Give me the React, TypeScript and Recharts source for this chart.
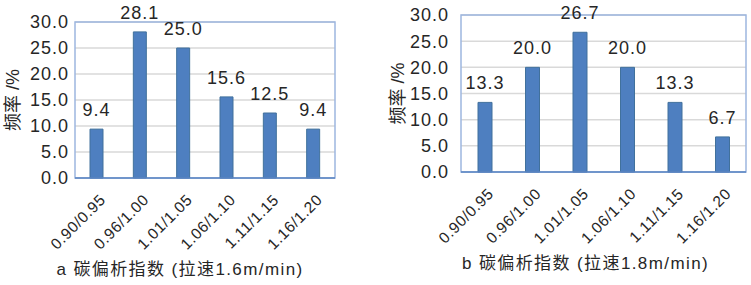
import React from 'react';
import {
  BarChart,
  Bar,
  XAxis,
  YAxis,
  CartesianGrid,
  LabelList,
  ReferenceArea,
} from 'recharts';

// carbon segregation index bins
const categories = ['0.90/0.95', '0.96/1.00', '1.01/1.05', '1.06/1.10', '1.11/1.15', '1.16/1.20'];
// frequency (%) at casting speed 1.6 m/min
const freqA = [9.4, 28.1, 25.0, 15.6, 12.5, 9.4];
// frequency (%) at casting speed 1.8 m/min
const freqB = [13.3, 20.0, 26.7, 20.0, 13.3, 6.7];
const yTicks = [0, 5, 10, 15, 20, 25, 30];

const titleA = 'a 碳偏析指数 (拉速1.6m/min)';
const titleB = 'b 碳偏析指数 (拉速1.8m/min)';
const yTitle = '频率 /%';

const FONT = '"Liberation Sans", Arial, "Noto Sans CJK SC", sans-serif';
const TEXT = '#262626';

const RotTick = (props: any) => {
  const { x, y, payload } = props;
  return (
    <g transform={`translate(${x + 6},${y + 11})`}>
      <text
        textAnchor="end"
        transform="rotate(-45)"
        dy="0.35em"
        fill={TEXT}
        fontSize={15.5}
        fontFamily={FONT}
        letterSpacing={0.6}
      >
        {payload.value}
      </text>
    </g>
  );
};

type PanelProps = {
  values: number[];
  title: string;
  width: number;
  margin: { top: number; right: number; bottom: number; left: number };
  yWidth: number;
  yLabelOffset: number;
  barSize: number;
  titleDx: number;
  tickMargin: number;
};

const Panel = ({ values, title, width, margin, yWidth, yLabelOffset, barSize, titleDx, tickMargin }: PanelProps) => {
  const data = categories.map((c, i) => ({ name: c, value: values[i] }));
  return (
    <BarChart width={width} height={285} data={data} margin={margin}>
      <CartesianGrid vertical={false} stroke="#D9D9D9" strokeWidth={1.5} />
      <ReferenceArea
        x1={categories[0]}
        x2={categories[categories.length - 1]}
        y1={0}
        y2={30}
        fill="none"
        stroke="#9DB6DF"
        strokeWidth={1.5}
        ifOverflow="visible"
      />
      <XAxis
        dataKey="name"
        interval={0}
        height={80}
        tickLine={false}
        axisLine={{ stroke: '#5B86C5', strokeWidth: 1.5 }}
        tick={<RotTick />}
        label={{
          value: title,
          position: 'bottom',
          offset: 5,
          dx: titleDx,
          fill: TEXT,
          fontSize: 17,
          fontFamily: FONT,
          letterSpacing: 1.4,
        }}
      />
      <YAxis
        domain={[0, 30]}
        ticks={yTicks}
        interval={0}
        width={yWidth}
        tickLine={false}
        axisLine={false}
        tickMargin={tickMargin}
        tickFormatter={(v: number) => v.toFixed(1)}
        tick={{ fill: TEXT, fontSize: 18, fontFamily: FONT, letterSpacing: 1 }}
        label={{
          value: yTitle,
          angle: -90,
          position: 'insideLeft',
          offset: yLabelOffset,
          fill: TEXT,
          fontSize: 18,
          fontFamily: FONT,
          style: { textAnchor: 'middle' },
        }}
      />
      <Bar dataKey="value" fill="#4E7FC0" stroke="#41719C" strokeWidth={1} barSize={barSize} isAnimationActive={false}>
        <LabelList
          dataKey="value"
          position="top"
          offset={13}
          formatter={(v: any) => Number(v).toFixed(1)}
          fill={TEXT}
          fontSize={18}
          fontFamily={FONT}
          letterSpacing={1}
        />
      </Bar>
    </BarChart>
  );
};

export default function App() {
  return (
    <div style={{ position: 'fixed', left: 0, top: 0, width: 751, height: 285, background: '#fff' }}>
      <div style={{ position: 'absolute', left: 0, top: 0 }}>
        <Panel
          values={freqA}
          title={titleA}
          width={375}
          margin={{ top: 22, right: 40, bottom: 27, left: 0 }}
          yWidth={75}
          yLabelOffset={13}
          barSize={13}
          titleDx={-25}
          tickMargin={0}
        />
      </div>
      <div style={{ position: 'absolute', left: 375, top: 0 }}>
        <Panel
          values={freqB}
          title={titleB}
          width={376}
          margin={{ top: 15, right: 5, bottom: 33, left: 0 }}
          yWidth={86}
          yLabelOffset={23}
          barSize={14}
          titleDx={-18}
          tickMargin={6}
        />
      </div>
    </div>
  );
}
